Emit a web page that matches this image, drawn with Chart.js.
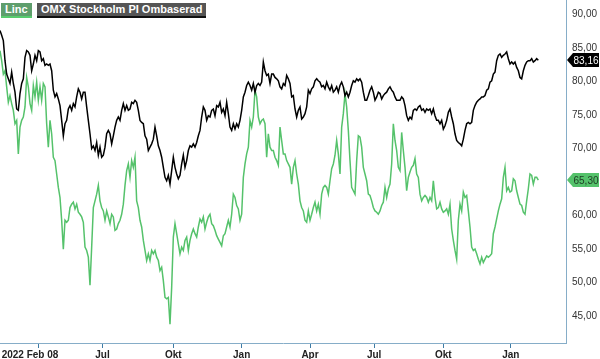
<!DOCTYPE html>
<html>
<head>
<meta charset="utf-8">
<script src="https://cdn.jsdelivr.net/npm/chart.js@4"></script>
<style>
  body { margin: 0; background: #fff; }
  #wrap { position: relative; width: 600px; height: 359px; }
  .legendTag {
    position: absolute;
    top: 3px;
    height: 13px;
    line-height: 13px;
    padding: 0 4px;
    font: bold 11px Arial, "Liberation Sans", sans-serif;
    color: #fff;
    white-space: nowrap;
  }
</style>
</head>
<body>
<div id="wrap">
  <canvas id="chart" width="600" height="359"></canvas>
  <div class="legendTag" style="left:1px;background:#5e9e6c;border-bottom:2px solid #58cc6e">Linc</div>
  <div class="legendTag" style="left:37px;background:#555;border-bottom:2px solid #111">OMX Stockholm PI Ombaserad</div>
</div>
<script>
const seriesNames = ["Linc", "OMX Stockholm PI Ombaserad"];

// Linc, one value per trading step, Feb 2022 -> Feb 2024
const lincValues = [
  84.6, 83.1, 81.1, 81.6, 79.2, 76.9, 77.9, 76.7, 75.7, 73.7, 74.2, 69.2, 73.2, 74.2, 74.7, 76.2,
  80.6, 79.2, 76.7, 75.7, 79.4, 77.7, 79.9, 77.2, 79.2, 77.2, 79.7, 79.2, 73.7, 70.2, 74.2, 72.2,
  68.7, 68.2, 66.2, 64.2, 62.7, 59.3, 55.0, 59.3, 59.0, 59.3, 61.2, 61.7, 62.0, 61.0, 61.7, 60.5,
  60.2, 59.8, 59.0, 55.3, 54.8, 53.8, 49.6, 55.3, 61.2, 62.2, 63.2, 64.5, 62.2, 61.2, 60.7, 59.3,
  60.7, 59.8, 58.8, 60.2, 59.8, 57.8, 58.0, 58.8, 59.3, 60.2, 61.7, 64.5, 66.7, 67.7, 65.7, 68.2,
  67.2, 68.7, 62.2, 61.2, 59.3, 58.3, 56.3, 54.8, 53.3, 54.3, 53.3, 54.8, 54.3, 54.8, 53.8, 53.3,
  51.8, 52.3, 50.3, 47.8, 47.6, 47.8, 43.8, 49.3, 56.8, 58.8, 57.3, 55.8, 54.3, 55.3, 54.8, 56.3,
  56.8, 54.8, 56.3, 57.3, 58.0, 57.3, 56.8, 58.3, 59.5,
  59.0, 59.8, 58.0, 59.0, 59.8, 60.2, 58.8, 58.5, 57.8, 57.0, 56.5, 56.0, 55.5, 57.0, 57.3, 58.3,
  59.3, 58.3, 60.2, 63.2, 62.7, 61.5, 61.0, 59.3, 60.2, 65.7, 67.7, 69.2, 70.2, 74.2, 73.2, 74.7,
  78.7, 77.7, 74.7, 73.7, 74.2, 74.4, 73.7, 68.7, 72.2, 70.2, 69.7, 69.7, 68.7, 68.2, 67.5, 73.2,
  71.2, 69.2, 69.2, 68.2, 67.7, 67.2, 64.7, 67.2, 68.2, 66.2, 64.7, 62.2, 61.2, 60.7, 59.3, 59.0,
  60.7, 59.3, 60.2, 61.2, 62.0, 60.7, 61.7, 60.2, 63.2, 64.2, 64.5, 64.2, 63.2, 65.2, 67.0, 67.7,
  69.0, 71.2, 69.2, 66.2, 73.2, 75.2, 78.2, 76.2, 72.7, 68.2, 64.2, 63.7, 63.2, 68.2, 71.9, 71.7,
  70.2, 67.2, 66.2, 65.2, 63.2, 63.0, 62.2, 61.2, 60.7, 60.5, 60.2, 60.7, 61.5, 62.0, 64.2, 62.7,
  64.0, 64.7, 67.7, 73.7, 71.2, 69.7, 67.2, 66.7,
  72.4, 69.7, 67.2, 63.7, 65.7, 66.5, 67.2, 67.5, 68.5, 66.2, 65.7, 63.2, 62.2, 62.7, 63.0, 62.7,
  62.0, 62.7, 62.2, 65.2, 62.7, 61.0, 61.2, 62.0, 61.0, 60.5, 60.7, 61.0, 60.2, 61.7, 58.0, 56.3,
  54.8, 53.5, 59.3, 61.7, 60.7, 63.5, 62.7, 63.0, 60.7, 58.3, 55.3, 54.8, 55.0, 54.3, 53.5, 52.8,
  53.8, 53.0, 53.5, 54.0, 53.8, 54.0, 54.3, 57.3, 58.3, 59.5, 60.7, 61.7, 62.5, 65.7, 67.2, 63.7,
  64.2, 63.5, 63.7, 65.5, 65.2, 63.7, 62.7, 61.7, 61.5, 60.5, 60.2, 62.2, 64.0, 66.2, 66.0, 64.7,
  65.7, 65.7, 65.3
];

// OMX Stockholm PI, rebased to Linc's start
const omxValues = [
  87.6, 86.9, 86.1, 83.1, 81.1, 80.4, 79.7, 81.4, 79.7, 78.4, 75.9, 75.7, 78.2, 79.7, 80.4, 83.6,
  84.6, 84.4, 83.9, 81.6, 82.6, 83.9, 83.1, 84.6, 84.4, 83.1, 83.4, 82.4, 82.6, 82.4, 82.6, 81.6,
  78.7, 77.7, 78.2, 77.4, 76.4, 74.2, 71.9, 73.7, 74.2, 75.9, 76.4, 75.7, 76.7, 76.2, 77.7, 78.9,
  78.4, 77.4, 78.4, 78.4, 76.2, 74.2, 72.2, 70.0, 70.4, 69.7, 70.9, 69.0, 70.2, 68.7, 69.0, 70.2,
  72.2, 72.7, 72.2, 70.7, 71.9, 73.2, 74.2, 74.7, 74.2, 75.7, 76.7, 75.7, 76.4, 75.7, 75.9, 76.9,
  76.7, 77.2, 76.9, 75.7, 74.2, 73.9, 73.7, 71.9, 71.4, 69.7, 70.2, 70.7, 71.4, 73.2, 71.9, 70.4,
  69.7, 68.7, 67.2, 65.7, 65.2, 66.0, 64.7, 66.7, 68.7, 67.2, 66.2, 65.5, 66.0, 67.7, 69.0, 67.2,
  68.2, 69.7, 70.4, 70.2, 70.7, 70.2, 70.9, 71.9, 72.7,
  74.7, 76.2, 75.7, 74.2, 74.9, 74.7, 75.7, 75.9, 74.9, 76.4, 76.2, 76.9, 75.4, 75.9, 74.9, 76.9,
  75.2, 73.2, 72.7, 73.7, 72.9, 73.7, 73.2, 74.2, 75.7, 77.7, 78.4, 79.4, 79.9, 79.4, 78.7, 79.7,
  78.4, 79.4, 79.7, 79.4, 79.9, 82.9, 81.6, 80.9, 81.1, 79.7, 81.1, 81.1, 80.6, 80.4, 80.1, 79.2,
  78.9, 79.7, 79.4, 80.9, 80.4, 79.7, 77.7, 77.9, 75.9, 74.7, 75.7, 76.2, 74.4, 74.7, 75.2, 76.2,
  78.7, 78.2, 78.9, 79.2, 80.1, 80.4, 80.1, 79.9, 79.2, 79.4, 78.9, 79.9, 79.2, 78.7, 79.4, 78.4,
  78.7, 79.2, 78.4, 79.4, 79.9, 79.2, 77.9, 78.4, 77.7, 78.4, 79.4, 80.1, 79.9, 80.4, 80.1, 80.4,
  79.9, 78.4, 77.2, 77.2, 77.9, 78.7, 79.2, 78.4, 77.2, 77.7, 78.4, 78.2, 77.4, 77.9, 78.2, 78.4,
  78.9, 79.2, 78.7, 78.4, 77.7, 77.2, 77.2, 77.2,
  77.7, 77.4, 76.4, 74.9, 74.2, 74.7, 74.4, 75.7, 75.9, 75.7, 76.2, 76.4, 75.7, 75.9, 75.4, 75.9,
  75.7, 75.9, 75.2, 75.9, 74.9, 74.2, 74.2, 73.7, 74.2, 72.9, 73.4, 74.2, 75.4, 75.9, 74.7, 73.7,
  72.2, 71.2, 70.9, 70.7, 70.4, 71.4, 72.7, 73.7, 73.9, 73.7, 73.9, 75.7, 76.4, 76.9, 77.2, 77.4,
  77.7, 77.7, 77.9, 78.7, 78.9, 79.9, 80.1, 81.1, 81.4, 83.1, 83.9, 84.1, 83.6, 83.9, 84.1, 84.4,
  83.4, 82.6, 82.9, 82.6, 82.9, 82.1, 81.6, 80.6, 80.4, 81.6, 82.4, 82.9, 83.1, 83.1, 83.4, 82.9,
  83.1, 83.4, 83.16
];

// x axis runs in trading steps; ticks placed at month starts
const axisEnd = 339.6;
const tickPositions = [23, 61.5, 104, 145, 186, 224.5, 266, 306.5];
const tickLabels = ["2022 Feb 08", "Jul", "Okt", "Jan", "Apr", "Jul", "Okt", "Jan"];
const yTicks = [45, 50, 55, 60, 65, 70, 75, 80, 85, 90];
const yMin = 41;
const yMax = 92.15;

const lincColor = "#55c26b";
const omxColor = "#000000";
const axisColor = "#86adc8";

function fmt(v) {
  return v.toFixed(2).replace(".", ",");
}

function toPoints(values) {
  return values.map((v, i) => ({ x: i, y: v }));
}

// price tags at the right edge, pointing at the last value
const lastValueTags = {
  id: "lastValueTags",
  afterDraw(chart) {
    const ctx = chart.ctx;
    const yScale = chart.scales.y;
    const left = chart.chartArea.right + 1;
    chart.data.datasets.forEach((ds) => {
      const last = ds.data[ds.data.length - 1].y;
      const y = Math.round(yScale.getPixelForValue(last));
      ctx.save();
      ctx.beginPath();
      ctx.moveTo(left, y);
      ctx.lineTo(left + 6, y - 7);
      ctx.lineTo(left + 32, y - 7);
      ctx.lineTo(left + 32, y + 7);
      ctx.lineTo(left + 6, y + 7);
      ctx.closePath();
      ctx.fillStyle = ds.borderColor;
      ctx.fill();
      ctx.fillStyle = ds.tagText;
      ctx.font = "10px Arial";
      ctx.textAlign = "center";
      ctx.textBaseline = "middle";
      ctx.fillText(fmt(last), left + 19, y + 1);
      ctx.restore();
    });
  },
};

const canvasRef = document.getElementById("chart");

const myChart = new Chart(canvasRef, {
  type: "line",
  data: {
    datasets: [
      {
        label: seriesNames[1],
        data: toPoints(omxValues),
        borderColor: omxColor,
        borderWidth: 1.5,
        pointRadius: 0,
        tension: 0,
        tagText: "#ffffff",
      },
      {
        label: seriesNames[0],
        data: toPoints(lincValues),
        borderColor: lincColor,
        borderWidth: 1.5,
        pointRadius: 0,
        tension: 0,
        tagText: "#1e3a24",
      },
    ],
  },
  options: {
    responsive: false,
    animation: false,
    devicePixelRatio: 1,
    layout: { padding: 0 },
    plugins: {
      legend: { display: false },
      tooltip: { enabled: false },
    },
    scales: {
      x: {
        type: "linear",
        min: 0,
        max: axisEnd,
        grid: {
          display: true,
          drawOnChartArea: false,
          drawTicks: true,
          tickLength: 5,
          tickColor: "#3f7ca5",
        },
        border: { display: true, color: axisColor },
        ticks: {
          autoSkip: false,
          maxRotation: 0,
          padding: 1,
          color: "#222",
          font: { family: "Arial", size: 10, weight: "bold" },
          callback: (v, i) => (i === 0 ? tickLabels[i] + "\u00a0".repeat(6) : tickLabels[i]),
        },
        afterBuildTicks: (s) => {
          s.ticks = tickPositions.map((v) => ({ value: v }));
        },
        afterFit: (s) => {
          s.height = 16;
          s.paddingLeft = 0;
          s.paddingRight = 0;
        },
      },
      y: {
        position: "right",
        min: yMin,
        max: yMax,
        grid: { display: false, drawTicks: false },
        border: { display: true, color: axisColor },
        ticks: {
          padding: 6,
          color: "#333",
          font: { family: "Arial", size: 10 },
          callback: (v) => fmt(v),
        },
        afterBuildTicks: (s) => {
          s.ticks = yTicks.map((v) => ({ value: v }));
        },
        afterFit: (s) => {
          s.width = 34;
          s.paddingTop = 0;
          s.paddingBottom = 0;
        },
      },
    },
  },
  plugins: [lastValueTags],
});
</script>
</body>
</html>
